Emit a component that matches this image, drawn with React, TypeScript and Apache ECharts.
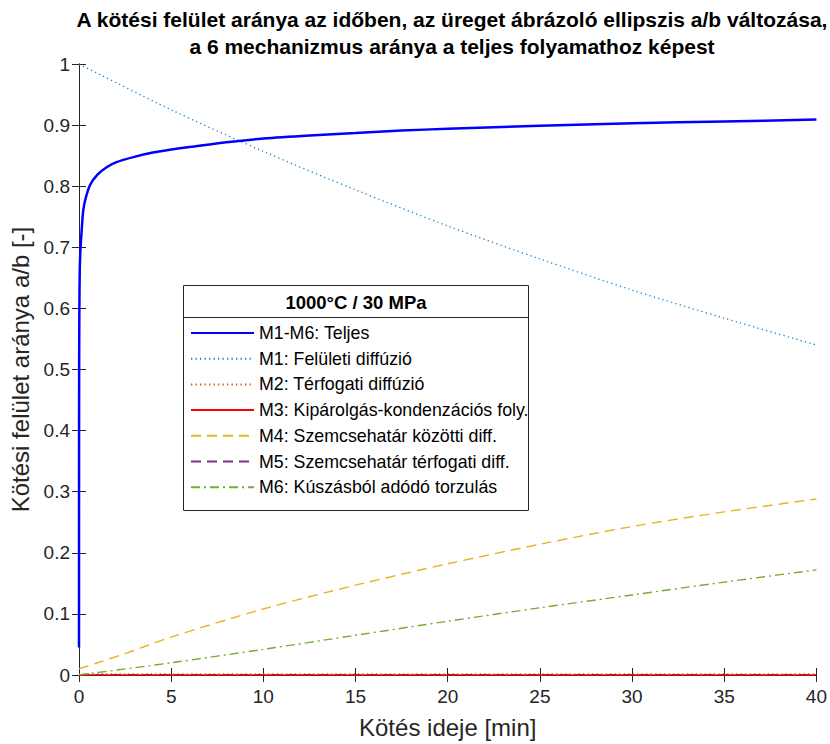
import React, { useEffect, useRef } from "react";
import * as echarts from "echarts";

const titleLines = [
  "A kötési felület aránya az időben, az üreget ábrázoló ellipszis a/b változása,",
  "a 6 mechanizmus aránya a teljes folyamathoz képest",
];
const legendTitle = "1000°C / 30 MPa";
const xName = "Kötés ideje [min]";
const yName = "Kötési felület aránya a/b [-]";

const seriesNames = [
  "M1-M6: Teljes",
  "M1: Felületi diffúzió",
  "M2: Térfogati diffúzió",
  "M3: Kipárolgás-kondenzációs foly.",
  "M4: Szemcsehatár közötti diff.",
  "M5: Szemcsehatár térfogati diff.",
  "M6: Kúszásból adódó torzulás",
];

const tTotal = [0, 0.003, 0.008, 0.02, 0.04, 0.07, 0.1, 0.15, 0.23, 0.35, 0.6, 1, 1.5, 2, 3, 4, 5, 6, 8, 10, 12.5, 15, 17.5, 20, 25, 30, 35, 40];
const vTotal = [0.045, 0.35, 0.5, 0.6, 0.66, 0.69, 0.707, 0.73, 0.76, 0.779, 0.802, 0.819, 0.831, 0.839, 0.848, 0.855, 0.86, 0.864, 0.872, 0.878, 0.883, 0.887, 0.891, 0.894, 0.899, 0.903, 0.906, 0.909];

const tM1 = [0, 5, 10, 15, 20, 25, 30, 35, 40];
const vM1 = [1.0, 0.925, 0.857, 0.794, 0.735, 0.681, 0.63, 0.584, 0.54];

const tM2 = [0, 40];
const vM2 = [0.002, 0.002];

const tM3 = [0, 40];
const vM3 = [0, 0];

const tM4 = [0, 1, 2.5, 5, 10, 15, 20, 25, 30, 35, 40];
const vM4 = [0.01, 0.02, 0.035, 0.062, 0.108, 0.147, 0.182, 0.214, 0.243, 0.267, 0.288];

const tM5 = [0, 40];
const vM5 = [0.0005, 0.0005];

const tM6 = [0, 0.5, 5, 10, 15, 20, 25, 30, 35, 40];
const vM6 = [0, 0.002, 0.02, 0.042, 0.065, 0.088, 0.11, 0.131, 0.152, 0.172];

const pair = (t: number[], v: number[]) => t.map((x, i) => [x, v[i]]);

export default function App() {
  const ref = useRef<HTMLDivElement>(null);
  useEffect(() => {
    if (!ref.current) return;
    const chart = echarts.init(ref.current, undefined, { renderer: "svg" });
    const axisColor = "#262626";
    const font = "Arial, 'Liberation Sans', sans-serif";
    const mk = (
      name: string,
      data: number[][],
      color: string,
      width: number,
      type: any,
      z: number
    ) => ({
      name,
      type: "line",
      data,
      showSymbol: false,
      symbol: "circle",
      symbolSize: 0,
      smooth: 0.3,
      z,
      lineStyle: { color, width, type },
      itemStyle: { color },
    });
    chart.setOption({
      animation: false,
      backgroundColor: "#ffffff",
      textStyle: { fontFamily: font },
      grid: { left: 79, top: 64, right: 12, bottom: 64, containLabel: false },
      title: {
        text: titleLines.join("\n"),
        left: 447,
        textAlign: "center",
        top: 1,
        textStyle: { fontSize: 21, fontWeight: "bold", color: "#000", lineHeight: 27, fontFamily: font },
      },
      xAxis: [
        {
          type: "value",
          min: 0,
          max: 40,
          interval: 5,
          name: xName,
          nameLocation: "middle",
          nameGap: 40,
          nameTextStyle: { fontSize: 24, color: axisColor },
          axisLine: { show: true, lineStyle: { color: axisColor, width: 1 } },
          axisTick: { inside: true, length: 7, lineStyle: { color: axisColor, width: 1 } },
          axisLabel: { fontSize: 19, color: axisColor, margin: 12 },
          splitLine: { show: false },
        },
        {
          type: "value",
          position: "top",
          min: 0,
          max: 40,
          interval: 5,
          axisLine: { show: true, lineStyle: { color: axisColor, width: 1 } },
          axisTick: { inside: true, length: 7, lineStyle: { color: axisColor, width: 1 } },
          axisLabel: { show: false },
          splitLine: { show: false },
        },
      ],
      yAxis: [
        {
          type: "value",
          min: 0,
          max: 1,
          interval: 0.1,
          name: yName,
          nameLocation: "middle",
          nameGap: 46,
          nameTextStyle: { fontSize: 24, color: axisColor },
          axisLine: { show: true, lineStyle: { color: axisColor, width: 1 } },
          axisTick: { inside: true, length: 7, lineStyle: { color: axisColor, width: 1 } },
          axisLabel: {
            fontSize: 19,
            color: axisColor,
            margin: 9,
            formatter: (v: number) => String(Math.round(v * 10) / 10),
          },
          splitLine: { show: false },
        },
        {
          type: "value",
          position: "right",
          min: 0,
          max: 1,
          interval: 0.1,
          axisLine: { show: true, lineStyle: { color: axisColor, width: 1 } },
          axisTick: { inside: true, length: 7, lineStyle: { color: axisColor, width: 1 } },
          axisLabel: { show: false },
          splitLine: { show: false },
        },
      ],
      legend: {
        orient: "vertical",
        left: 190,
        top: 324,
        padding: 0,
        itemWidth: 63,
        itemHeight: 14,
        itemGap: 7.7,
        z: 10,
        itemStyle: { opacity: 0 },
        textStyle: { fontSize: 17.8, color: "#000", fontFamily: font },
        data: seriesNames,
      },
      graphic: [
        {
          type: "rect",
          z: 8,
          shape: { x: 183.5, y: 285.5, width: 345, height: 225 },
          style: { fill: "#fff", stroke: axisColor, lineWidth: 1 },
        },
        {
          type: "line",
          z: 9,
          shape: { x1: 183.5, y1: 317.5, x2: 528.5, y2: 317.5 },
          style: { stroke: axisColor, lineWidth: 1 },
        },
        {
          type: "text",
          z: 9,
          x: 356,
          y: 302,
          style: {
            text: legendTitle,
            fontSize: 18.5,
            fontWeight: "bold",
            fill: "#000",
            align: "center",
            verticalAlign: "middle",
            fontFamily: font,
          },
        },
      ],
      series: [
        mk(seriesNames[0], pair(tTotal, vTotal), "#0000ff", 2.5, "solid", 7),
        mk(seriesNames[1], pair(tM1, vM1), "#1A86CC", 1.3, [1.3, 3.2], 6),
        mk(seriesNames[2], pair(tM2, vM2), "#D95319", 1.3, [1.3, 3.2], 3),
        mk(seriesNames[3], pair(tM3, vM3), "#ff0000", 1.5, "solid", 5),
        mk(seriesNames[4], pair(tM4, vM4), "#EDB120", 1.4, [10, 6], 6),
        mk(seriesNames[5], pair(tM5, vM5), "#7E2F8E", 1.4, [10, 6], 4),
        mk(seriesNames[6], pair(tM6, vM6), "#77AC30", 1.4, [9, 4, 2, 4], 6),
      ],
    });
    return () => chart.dispose();
  }, []);
  return <div ref={ref} style={{ width: 830, height: 744, position: "absolute", left: 0, top: 0 }} />;
}
